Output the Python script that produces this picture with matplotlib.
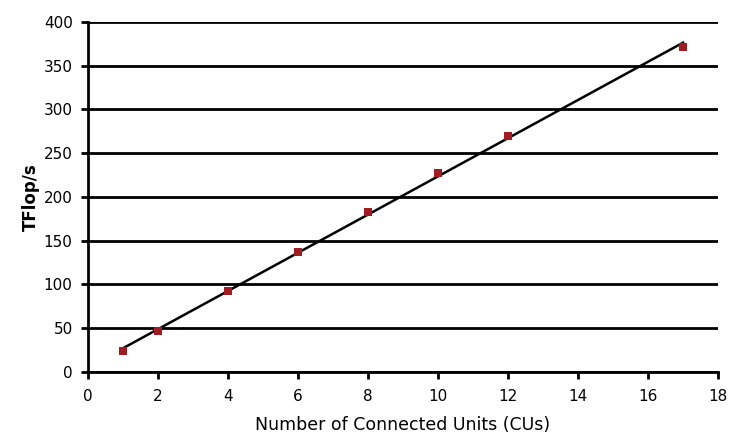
import numpy as np
import matplotlib
matplotlib.use("Agg")
import matplotlib.pyplot as plt

# measured points
cus = [1, 2, 4, 6, 8, 10, 12, 17]
tflops = [24, 47, 93, 137, 183, 227, 270, 371]

x_ticks = [0, 2, 4, 6, 8, 10, 12, 14, 16, 18]
y_ticks = [0, 50, 100, 150, 200, 250, 300, 350, 400]

plt.rcParams["font.family"] = ["DejaVu Sans"]

fig = plt.figure(figsize=(7.3, 4.33), dpi=100)
ax = fig.add_axes([0.1205, 0.1409, 0.8631, 0.8083])

# linear trend line over the data range
slope, intercept = np.polyfit(cus, tflops, 1)
xfit = np.array([min(cus), max(cus)])
ax.plot(xfit, slope * xfit + intercept, color="black", lw=1.8, zorder=3)

ax.scatter(cus, tflops, marker="s", s=26, color="#a01c22", zorder=4, linewidths=0)

ax.set_xlim(0, 18)
ax.set_ylim(0, 400)
ax.set_xticks(x_ticks)
ax.set_yticks(y_ticks)
ax.yaxis.grid(True, color="black", lw=2)
ax.set_axisbelow(True)

for side in ["top", "right"]:
    ax.spines[side].set_visible(False)
for side in ["left", "bottom"]:
    ax.spines[side].set_linewidth(2)
ax.tick_params(direction="out", width=2, length=5, labelsize=11, colors="black")
ax.tick_params(axis="x", pad=7)
ax.tick_params(axis="y", pad=6)

ax.set_xlabel("Number of Connected Units (CUs)", fontsize=12.5, labelpad=9)
ax.set_ylabel("TFlop/s", fontsize=12, fontweight="bold", labelpad=3)

fig.savefig("out.png", dpi=100)
